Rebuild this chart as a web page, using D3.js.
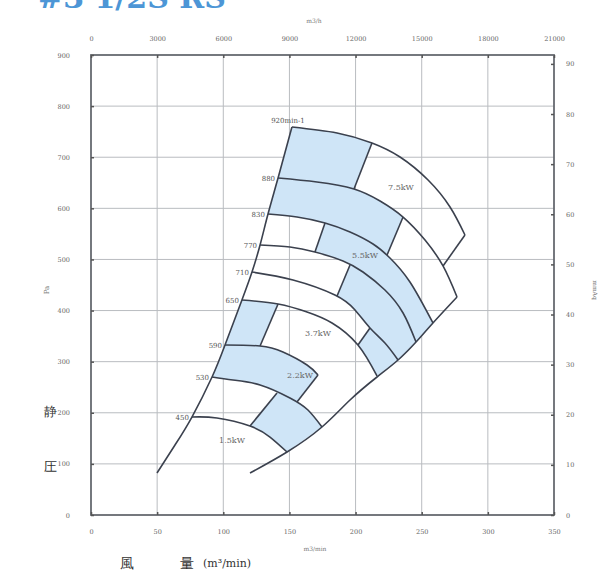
<!DOCTYPE html>
<html>
<head>
<meta charset="utf-8">
<script src="https://cdn.jsdelivr.net/npm/d3@7"></script>
<style>
  body { margin: 0; background: #fff; }
  text { font-family: "DejaVu Serif", "Liberation Serif", serif; }
</style>
</head>
<body>
<div id="chart"></div>
<script>
(function() {
  var width = 598,
      height = 571;

  var margin = { top: 55, right: 44, bottom: 56, left: 91 },
      chartWidth = width - margin.left - margin.right,
      chartHeight = height - margin.top - margin.bottom;

  // axes ticks
  const flowTicks = [0, 50, 100, 150, 200, 250, 300, 350];                 // m3/min
  const flowHourTicks = [0, 3000, 6000, 9000, 12000, 15000, 18000, 21000]; // m3/h
  const paTicks = [0, 100, 200, 300, 400, 500, 600, 700, 800, 900];
  const mmaqTicks = [0, 10, 20, 30, 40, 50, 60, 70, 80, 90];

  // speed curves (m3/min, Pa)
  const rpmLabels = ["920min-1", "880", "830", "770", "710", "650", "590", "530", "450"];
  const rpm920 = [[151.9, 759.1], [186.0, 747.4], [212.4, 727.8], [233.6, 700.4], [254.8, 655.4], [271.4, 602.6], [282.7, 547.8]];
  const rpm880 = [[141.4, 659.3], [170.8, 651.5], [198.8, 637.8], [218.5, 614.3], [235.9, 583.0], [252.5, 538.0], [266.1, 487.2], [276.7, 426.5]];
  const rpm830 = [[133.8, 588.9], [155.7, 583.0], [176.9, 571.3], [195.8, 553.7], [213.2, 530.2], [226.0, 502.8], [241.1, 455.9], [258.5, 375.7]];
  const rpm770 = [[127.8, 528.3], [150.4, 524.3], [169.3, 514.6], [190.5, 497.0], [205.6, 475.4], [222.2, 440.2], [235.9, 395.2], [245.7, 338.5]];
  const rpm710 = [[121.7, 475.4], [152.7, 459.8], [184.4, 430.4], [199.6, 401.1], [210.9, 365.9], [222.2, 336.5], [232.1, 303.3]];
  const rpm650 = [[114.1, 420.7], [141.4, 412.8], [163.3, 397.2], [182.2, 375.7], [201.8, 332.6], [216.2, 272.0]];
  const rpm590 = [[101.3, 332.6], [127.8, 330.7], [145.1, 318.9], [163.3, 293.5], [171.6, 273.9]];
  const rpm530 = [[91.5, 270.0], [107.3, 264.1], [127.8, 254.3], [150.4, 228.9], [164.0, 205.4], [174.6, 172.2]];
  const rpm450 = [[76.3, 191.7], [95.2, 189.8], [120.2, 174.1], [135.3, 152.6], [148.2, 123.3]];
  const speedCurves = [rpm920, rpm880, rpm830, rpm770, rpm710, rpm650, rpm590, rpm530, rpm450];

  // surge line, maximum-flow line and the end of the top curve
  const surgeLine = [[151.9, 759.1], [141.4, 659.3], [133.8, 588.9], [127.8, 528.3], [121.7, 475.4], [114.1, 420.7], [101.3, 332.6], [91.5, 270.0], [76.3, 191.7], [63.5, 137.0], [49.9, 82.2]];
  const maxFlowLine = [[276.7, 426.5], [258.5, 375.7], [245.7, 338.5], [232.1, 303.3], [216.2, 270.0], [195.8, 225.0], [174.6, 172.2], [148.2, 123.3], [120.2, 82.2]];
  const endLine920 = [[282.7, 547.8], [266.1, 487.2]];

  // motor boundaries across one band (upper point, lower point)
  const dividers = [
    [[212.4, 727.8], [198.8, 637.8]],   // 0: 920-880
    [[235.9, 583.0], [223.8, 508.7]],   // 1: 880-830
    [[176.9, 571.3], [169.3, 514.6]],   // 2: 830-770
    [[195.8, 489.1], [186.0, 428.5]],   // 3: 770-710
    [[210.9, 365.9], [201.8, 332.6]],   // 4: 710-650
    [[141.4, 412.8], [127.8, 330.7]],   // 5: 650-590
    [[171.6, 273.9], [155.7, 221.1]],   // 6: 590-530
    [[140.6, 238.7], [120.2, 174.1]]    // 7: 530-450
  ];

  // shaded cells: band (between curve i and i+1), left divider, right divider
  const shaded = [
    { band: 0, from: null, to: 0 },
    { band: 1, from: null, to: 1 },
    { band: 2, from: 2, to: null },
    { band: 3, from: 3, to: null },
    { band: 4, from: 4, to: null },
    { band: 5, from: null, to: 5 },
    { band: 6, from: null, to: 6 },
    { band: 7, from: 7, to: null }
  ];

  const motorLabels = [
    { text: "7.5kW", q: 234.3, p: 635.9 },
    { text: "5.5kW", q: 207.1, p: 502.8 },
    { text: "3.7kW", q: 171.6, p: 350.2 },
    { text: "2.2kW", q: 158.0, p: 268.0 },
    { text: "1.5kW", q: 106.6, p: 140.9 }
  ];

  var x = d3.scaleLinear().domain([0, 350]).range([0, chartWidth]);
  var xTop = d3.scaleLinear().domain([0, 21000]).range([0, chartWidth]);
  var y = d3.scaleLinear().domain([0, 900]).range([chartHeight, 0]);
  var yRight = d3.scaleLinear().domain([0, 900 / 9.80665]).range([chartHeight, 0]);

  var svg = d3.select("#chart").append("svg")
      .attr("width", width)
      .attr("height", height);

  // title (cut off at the top edge in the source too)
  svg.append("text")
      .attr("x", 38)
      .attr("y", 8)
      .attr("fill", "#4d96d6")
      .attr("font-size", "30px")
      .attr("font-weight", "bold")
      .text("#3  1/2S  RS");

  var g = svg.append("g")
      .attr("transform", "translate(" + margin.left + "," + margin.top + ")");

  // grid
  g.append("g")
    .selectAll("line")
    .data(flowTicks.slice(1, -1))
    .join("line")
      .attr("x1", d => x(d)).attr("x2", d => x(d))
      .attr("y1", 0).attr("y2", chartHeight)
      .attr("stroke", "#b9bcc0").attr("stroke-width", 1);

  g.append("g")
    .selectAll("line")
    .data(paTicks.slice(1, -1))
    .join("line")
      .attr("y1", d => y(d)).attr("y2", d => y(d))
      .attr("x1", 0).attr("x2", chartWidth)
      .attr("stroke", "#b9bcc0").attr("stroke-width", 1);

  var line = d3.line()
      .x(d => x(d[0]))
      .y(d => y(d[1]))
      .curve(d3.curveNatural);

  var straight = d3.line()
      .x(d => x(d[0]))
      .y(d => y(d[1]));

  // closed area between two curves, second one walked backwards
  function bandPath(upper, lower) {
    var p = d3.path();
    line.context(p)(upper);
    var join = {
      moveTo: (a, b) => p.lineTo(a, b),
      lineTo: (a, b) => p.lineTo(a, b),
      bezierCurveTo: (a, b, c, d, e, f) => p.bezierCurveTo(a, b, c, d, e, f),
      closePath: () => {}
    };
    line.context(join)(lower.slice().reverse());
    p.closePath();
    line.context(null);
    return p.toString();
  }

  // one side of a divider, the divider extended far both ways
  function halfPlane(div, side) {
    var a = [x(div[0][0]), y(div[0][1])],
        b = [x(div[1][0]), y(div[1][1])];
    var dx = b[0] - a[0], dy = b[1] - a[1];
    var t = 4;
    var a2 = [a[0] - dx * t, a[1] - dy * t],
        b2 = [b[0] + dx * t, b[1] + dy * t];
    var far = side < 0 ? -2000 : 2000;
    return [a2, b2, [far, b2[1]], [far, a2[1]]];
  }

  var defs = svg.append("defs");

  shaded.forEach((s, i) => {
    var clipG = g;
    if (s.from !== null) {
      defs.append("clipPath").attr("id", "clipL" + i)
        .append("polygon")
        .attr("points", halfPlane(dividers[s.from], 1).join(" "));
      clipG = clipG.append("g").attr("clip-path", "url(#clipL" + i + ")");
    }
    if (s.to !== null) {
      defs.append("clipPath").attr("id", "clipR" + i)
        .append("polygon")
        .attr("points", halfPlane(dividers[s.to], -1).join(" "));
      clipG = clipG.append("g").attr("clip-path", "url(#clipR" + i + ")");
    }
    clipG.append("path")
        .attr("d", bandPath(speedCurves[s.band], speedCurves[s.band + 1]))
        .attr("fill", "#cfe5f7");
  });

  var curveColor = "#3b414e";

  g.append("g")
    .selectAll("path")
    .data(speedCurves)
    .join("path")
      .attr("d", line)
      .attr("fill", "none")
      .attr("stroke", curveColor)
      .attr("stroke-width", 1.6);

  [surgeLine, maxFlowLine].forEach(l => {
    g.append("path")
        .attr("d", line(l))
        .attr("fill", "none")
        .attr("stroke", curveColor)
        .attr("stroke-width", 1.6);
  });

  g.append("path")
      .attr("d", straight(endLine920))
      .attr("fill", "none")
      .attr("stroke", curveColor)
      .attr("stroke-width", 1.6);

  g.append("g")
    .selectAll("path")
    .data(dividers)
    .join("path")
      .attr("d", straight)
      .attr("fill", "none")
      .attr("stroke", curveColor)
      .attr("stroke-width", 1.6);

  // speed labels at the surge end of each curve
  g.append("g")
    .selectAll("text")
    .data(speedCurves)
    .join("text")
      .attr("x", (d, i) => x(d[0][0]) - (i == 0 ? 4 : 3))
      .attr("y", (d, i) => y(d[0][1]) + (i == 0 ? -4 : 3))
      .attr("text-anchor", (d, i) => i == 0 ? "middle" : "end")
      .attr("font-size", "7px")
      .attr("fill", "#555")
      .text((d, i) => rpmLabels[i]);

  g.append("g")
    .selectAll("text")
    .data(motorLabels)
    .join("text")
      .attr("x", d => x(d.q))
      .attr("y", d => y(d.p))
      .attr("text-anchor", "middle")
      .attr("font-size", "8px")
      .attr("fill", "#666")
      .text(d => d.text);

  // frame
  g.append("rect")
      .attr("width", chartWidth)
      .attr("height", chartHeight)
      .attr("fill", "none")
      .attr("stroke", "#666a70")
      .attr("stroke-width", 1.8);

  var axisFont = g => g.call(g => g.select(".domain").remove())
      .selectAll("text").attr("font-size", "6.5px").attr("fill", "#666")
      .attr("font-family", "DejaVu Serif, serif");

  g.append("g")
      .attr("transform", "translate(0," + chartHeight + ")")
      .call(d3.axisBottom(x).tickValues(flowTicks).tickSize(-3).tickPadding(14))
      .call(axisFont);

  g.append("g")
      .call(d3.axisTop(xTop).tickValues(flowHourTicks).tickSize(-3).tickPadding(14).tickFormat(d => d))
      .call(axisFont);

  g.append("g")
      .call(d3.axisLeft(y).tickValues(paTicks).tickSize(-3).tickPadding(21))
      .call(axisFont);

  g.append("g")
      .attr("transform", "translate(" + chartWidth + ",0)")
      .call(d3.axisRight(yRight).tickValues(mmaqTicks).tickSize(-3).tickPadding(12))
      .call(axisFont);

  g.selectAll(".tick line").attr("stroke", "#555").attr("stroke-width", 1.5);

  // unit labels
  svg.append("text").attr("x", 314).attr("y", 23).attr("text-anchor", "middle")
      .attr("font-size", "6px").attr("fill", "#777").text("m3/h");
  svg.append("text").attr("x", 315).attr("y", 551).attr("text-anchor", "middle")
      .attr("font-size", "6px").attr("fill", "#777").text("m3/min");
  svg.append("text").attr("transform", "translate(49,290) rotate(-90)").attr("text-anchor", "middle")
      .attr("font-size", "7px").attr("fill", "#777").text("Pa");
  svg.append("text").attr("transform", "translate(593,290) rotate(90)").attr("text-anchor", "middle")
      .attr("font-size", "6px").attr("fill", "#777").text("mmAq");

  var jp = "'Noto Sans CJK JP', sans-serif";
  svg.append("text").attr("x", 50).attr("y", 416).attr("text-anchor", "middle")
      .attr("font-size", "13px").attr("fill", "#333").attr("font-family", jp).text("静");
  svg.append("text").attr("x", 50).attr("y", 471).attr("text-anchor", "middle")
      .attr("font-size", "13px").attr("fill", "#333").attr("font-family", jp).text("圧");
  svg.append("text").attr("x", 127).attr("y", 568).attr("text-anchor", "middle")
      .attr("font-size", "14px").attr("fill", "#333").attr("font-family", jp).text("風");
  svg.append("text").attr("x", 187).attr("y", 568).attr("text-anchor", "middle")
      .attr("font-size", "14px").attr("fill", "#333").attr("font-family", jp).text("量");
  svg.append("text").attr("x", 203).attr("y", 567)
      .attr("font-size", "11px").attr("fill", "#333").text("(m³/min)");
})();
</script>
</body>
</html>
